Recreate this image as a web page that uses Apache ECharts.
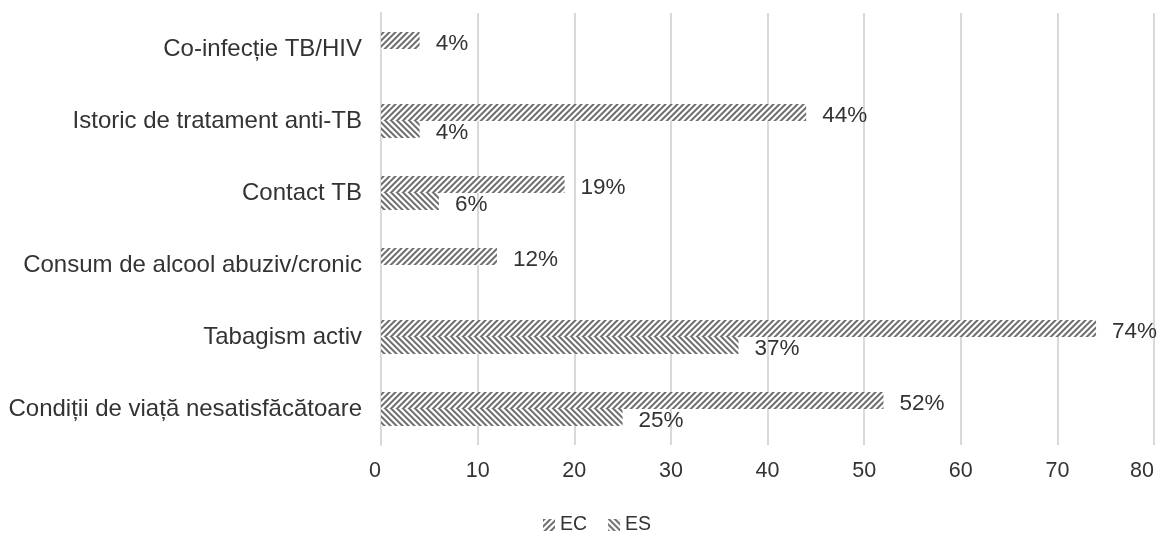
<!DOCTYPE html>
<html>
<head>
<meta charset="utf-8">
<script src="https://cdn.jsdelivr.net/npm/echarts@6/dist/echarts.min.js"></script>
<style>
html,body{margin:0;padding:0;background:#fff;}
#chart{width:1160px;height:533px;}
</style>
</head>
<body>
<div id="chart"></div>
<script>
// Categories listed bottom to top
var categories = [
  'Condiții de viață nesatisfăcătoare',
  'Tabagism activ',
  'Consum de alcool abuziv/cronic',
  'Contact TB',
  'Istoric de tratament anti-TB',
  'Co-infecție TB/HIV'
];
var seriesNames = ['EC', 'ES'];
var valuesEC = [52, 74, 12, 19, 44, 4];
var valuesES = [25, 37, null, 6, 4, null];
var xTicks = [0, 10, 20, 30, 40, 50, 60, 70, 80];

function makePattern(dir) {
  var s = 6;
  var c = document.createElement('canvas');
  c.width = s; c.height = s;
  var ctx = c.getContext('2d');
  var img = ctx.createImageData(s, s);
  var shades = [0x70, 0x70, 0xa8, 0xff, 0xff, 0xd4];
  for (var y = 0; y < s; y++) {
    for (var x = 0; x < s; x++) {
      var k = dir === '/' ? (x + y) % s : ((x - y) % s + s) % s;
      var v = shades[k];
      var i = (y * s + x) * 4;
      img.data[i] = v; img.data[i+1] = v; img.data[i+2] = v; img.data[i+3] = 255;
    }
  }
  ctx.putImageData(img, 0, 0);
  return c;
}
var patEC = { image: makePattern('/'), repeat: 'repeat' };
var patES = { image: makePattern('\\'), repeat: 'repeat' };

var fontFam = '"Liberation Sans", Arial, sans-serif';
var txtColor = '#333333';

var chart = echarts.init(document.getElementById('chart'), null, {renderer: 'canvas'});
var labelCfg = {
  show: true, position: 'right', distance: 16, offset: [0, 3],
  formatter: '{c}%', color: txtColor, fontSize: 22.5, fontFamily: fontFam
};
chart.setOption({
  animation: false,
  backgroundColor: '#ffffff',
  grid: { left: 381, right: 6, top: 13, bottom: 88, containLabel: false, outerBoundsMode: 'none' },
  legend: {
    data: seriesNames, top: 510, left: 538,
    itemWidth: 12, itemHeight: 12, itemGap: 21,
    icon: 'rect',
    textStyle: { fontSize: 19.5, color: txtColor, fontFamily: fontFam }
  },
  xAxis: {
    type: 'value', min: xTicks[0], max: xTicks[xTicks.length-1], interval: 10,
    axisLine: { show: false }, axisTick: { show: false },
    splitLine: { show: true, lineStyle: { color: '#d9d9d9', width: 2 } },
    axisLabel: { fontSize: 21.5, color: txtColor, fontFamily: fontFam, margin: 15,
      alignMinLabel: 'right', alignMaxLabel: 'right' }
  },
  yAxis: {
    type: 'category', data: categories,
    axisLine: { show: true, lineStyle: { color: '#d9d9d9', width: 2 } },
    axisTick: { show: false },
    axisLabel: { fontSize: 24, color: txtColor, fontFamily: fontFam, margin: 19 }
  },
  series: [
    { name: 'EC', type: 'bar', data: valuesEC, barWidth: 17, barGap: '0%',
      itemStyle: { color: patEC }, label: labelCfg },
    { name: 'ES', type: 'bar', data: valuesES, barWidth: 17, barGap: '0%',
      itemStyle: { color: patES }, label: labelCfg }
  ]
});
</script>
</body>
</html>
